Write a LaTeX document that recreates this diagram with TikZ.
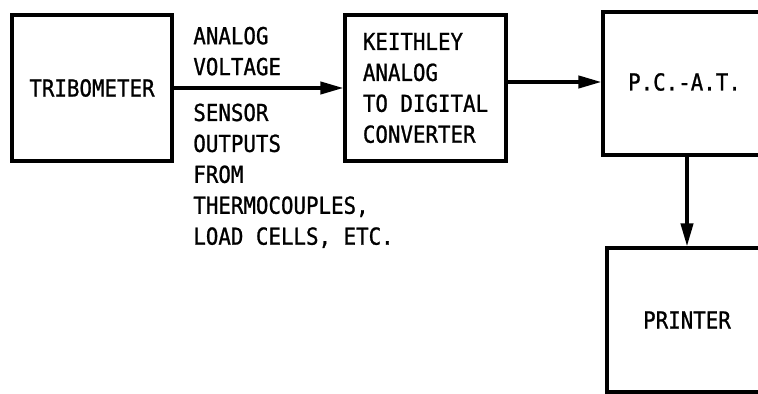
\documentclass[tikz,border=0pt]{standalone}
\usepackage{fontspec}
\newfontfamily\diagfont[FakeStretch=0.89, FakeBold=1]{DejaVu Sans Mono}
\usetikzlibrary{arrows.meta, positioning}

\begin{document}
\begin{tikzpicture}[
    x=0.02cm, y=-0.02cm,
    txt/.style = {
        inner sep=0pt,
        font=\diagfont\fontsize{13.3}{17.6}\selectfont
    },
    box/.style = {
        txt,
        rectangle,
        draw=black,
        line width=2pt,
        align=left
    },
    lbl/.style = {txt, align=left, anchor=north west},
    arrow/.style = {line width=1.8pt, -{Triangle[length=13pt, width=7pt]}}
]
    \useasboundingbox (0,0) rectangle (758,394);
    \clip (0,0) rectangle (758,394);

    % === BLOCKS ===
    \node[box, minimum width=3.2cm, minimum height=2.92cm] (tribo) at (92,88) {TRIBOMETER};
    \node[box, minimum width=3.22cm, minimum height=2.92cm] (keithley) at (425.5,88) {
        KEITHLEY\\
        ANALOG\\
        TO DIGITAL\\
        CONVERTER
    };

    % P.C. and printer run off the right edge
    \node[box, minimum width=3.94cm, minimum height=2.86cm] (pc) at (701.5,83.5) {};
    \node[txt] (pclabel) at (684.5,82) {P.C.-A.T.};

    \node[box, minimum width=3.86cm, minimum height=2.88cm] (printer) at (703.5,320) {};
    \node[txt] (printerlabel) at (687,320) {PRINTER};

    % === SIGNAL LABELS ===
    \node[lbl] (voltage) at (193,26.5) {
        ANALOG\\
        VOLTAGE
    };
    \node[lbl, below right=0.55cm and 0cm of voltage.south west] (sensor) {
        SENSOR\\
        OUTPUTS\\
        FROM\\
        THERMOCOUPLES,\\
        LOAD CELLS, ETC.
    };

    % === DATA FLOW ===
    \draw[arrow] (tribo) -- (keithley);
    \draw[arrow] (keithley.east |- pclabel) -- (pc.west |- pclabel);
    \draw[arrow] (pc.south -| printerlabel) -- (printer.north -| printerlabel);

\end{tikzpicture}
\end{document}
